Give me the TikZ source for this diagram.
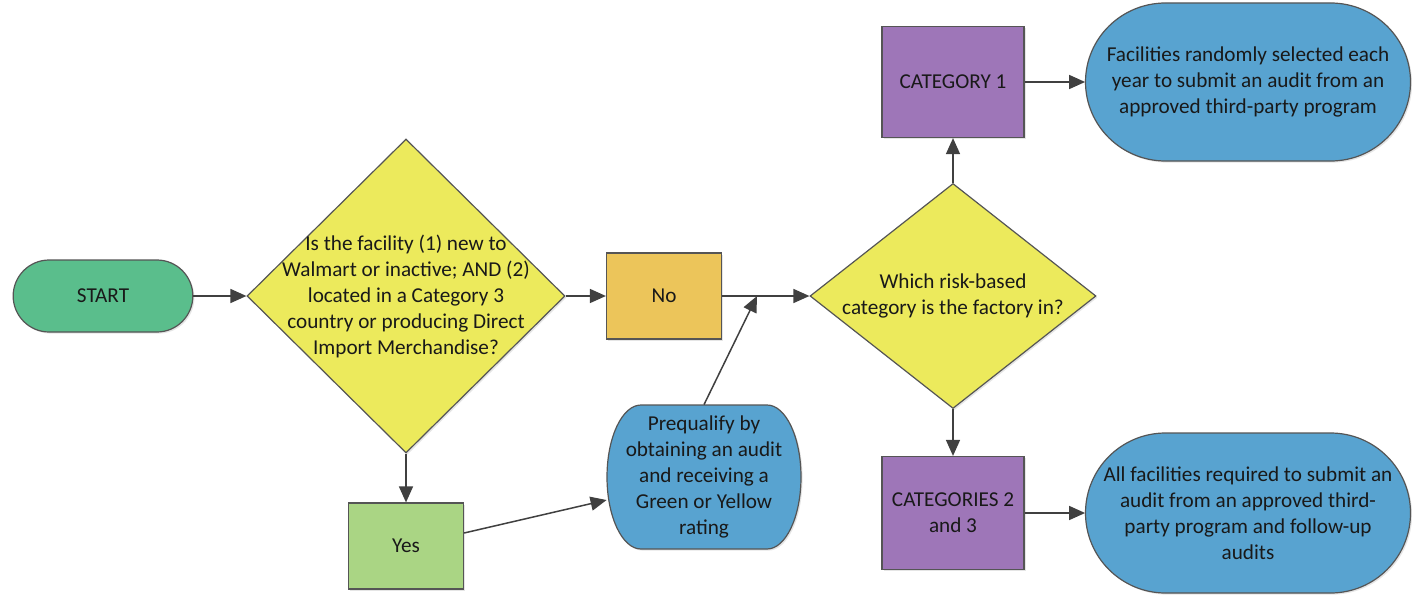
\documentclass[tikz,border=0pt]{standalone}
\usepackage{fontspec}
\setmainfont{Carlito}
\usepackage{tikz}
\usetikzlibrary{shapes,arrows.meta,calc,shadows}
\definecolor{startgreen}{RGB}{90,190,140}
\definecolor{askyellow}{RGB}{236,234,92}
\definecolor{noorange}{RGB}{236,197,90}
\definecolor{yesgreen}{RGB}{170,213,132}
\definecolor{catpurple}{RGB}{158,118,184}
\definecolor{auditblue}{RGB}{88,163,208}
\definecolor{edgegray}{RGB}{85,85,85}
\definecolor{flowgray}{RGB}{64,64,64}
\definecolor{textdark}{RGB}{25,25,25}
\tikzset{
  every node/.style={font=\fontsize{10.6}{13}\selectfont, text=textdark},
  wmborder/.style={draw=edgegray, line width=0.6pt,
    drop shadow={shadow xshift=0.8pt, shadow yshift=-0.8pt, opacity=0.2}},
  terminal/.style={rounded rectangle, wmborder, fill=startgreen, minimum width=96.5pt, minimum height=36pt},
  process/.style={rectangle, wmborder, align=center, inner sep=0pt},
  decision/.style={diamond, wmborder, fill=askyellow, inner sep=0pt},
  outcome/.style={wmborder, fill=auditblue},
  flow/.style={draw=flowgray, line width=0.75pt, -{Triangle[length=8pt, width=7pt]}}
}
\newcommand{\wmterminalnode}[3] {\node at (#1) (#2) [terminal] {#3};}
\newcommand{\wmprocessnode}[5] {\node at (#1) (#2) [process, fill=#3, #4] {#5};}
\newcommand{\wmdecisionnode}[5] {\node at (#1) (#2) [decision, minimum width=#3, minimum height=#4] {};
  \node at (#2) [align=center] {#5};}
\newcommand{\wmoutcomenode}[6] {\filldraw [outcome] ($(#1)+(-#3/2+#5,#4/2)$) -- ++(#3-2*#5,0)
    arc [start angle=90, end angle=-90, x radius=#5, y radius=#4/2] -- ++(-#3+2*#5,0)
    arc [start angle=270, end angle=90, x radius=#5, y radius=#4/2] -- cycle;
  \node at (#1) (#2) [minimum width=#3, minimum height=#4, align=center] {#6};}
\newcommand{\wmtransition}[2] {\draw [flow] (#1) -- (#2);}

\begin{document}
\begin{tikzpicture}[x=1pt, y=1pt]
\useasboundingbox [fill=white] (0,0) rectangle (706,298);

\wmterminalnode {51.5,150}{start}{START};
\wmdecisionnode {203,150}{isnew}{159}{157}{Is the facility (1) new to\\Walmart or inactive; AND (2)\\located in a Category 3\\country or producing Direct\\Import Merchandise?};
\wmprocessnode {332,150}{no}{noorange}{minimum width=57.5pt, minimum height=43pt}{No};
\wmprocessnode {203,25}{yes}{yesgreen}{minimum width=57.5pt, minimum height=43pt}{Yes};
\wmoutcomenode {352,59.5}{prequal}{97}{72}{17}{Prequalify by\\obtaining an audit\\and receiving a\\Green or Yellow\\rating};
\wmdecisionnode {476.5,150}{risk}{143}{112.5}{Which risk-based\\category is the factory in?};
\wmprocessnode {476.5,257}{cat1}{catpurple}{minimum width=71pt, minimum height=55.5pt}{CATEGORY 1};
\wmprocessnode {476.5,41.5}{cat23}{catpurple}{minimum width=71pt, minimum height=56.5pt}{CATEGORIES 2\\and 3};
\wmoutcomenode {624,257}{out1}{162.5}{79}{40}{Facilities randomly selected each\\year to submit an audit from an\\approved third-party program};
\wmoutcomenode {624,41.5}{out23}{162.5}{80}{40}{All facilities required to submit an\\audit from an approved third-\\party program and follow-up\\audits};

\coordinate (merge) at ($(no.east)!0.4!(risk.west)$);

\wmtransition{start.east}{isnew.west};
\wmtransition{isnew.east}{no.west};
\wmtransition{no.east}{risk.west};
\wmtransition{isnew.south}{yes.north};
\wmtransition{[yshift=6.5pt]yes.east}{[yshift=-11.5pt]prequal.west};
\wmtransition{prequal.north}{merge};
\wmtransition{risk.north}{cat1.south};
\wmtransition{risk.south}{cat23.north};
\wmtransition{cat1.east}{out1.west};
\wmtransition{cat23.east}{out23.west};
\end{tikzpicture}
\end{document}
